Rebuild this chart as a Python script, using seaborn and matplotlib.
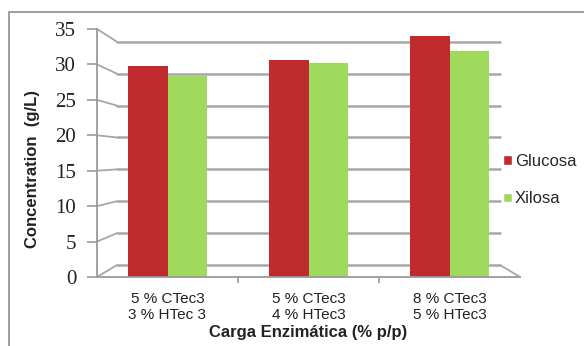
import matplotlib
matplotlib.use("Agg")
import matplotlib.pyplot as plt
import matplotlib.patches as mpatches
import seaborn as sns
import pandas as pd

# Enzyme loadings (x categories) and sugar concentrations in g/L
cargas = ["5 % CTec3\n3 % HTec 3", "5 % CTec3\n4 % HTec3", "8 % CTec3\n5 % HTec3"]
glucosa = [29.8, 30.6, 34.0]
xilosa = [28.3, 30.2, 31.9]
series = ["Glucosa", "Xilosa"]
yticks = [0, 5, 10, 15, 20, 25, 30, 35]

df = pd.DataFrame({
    "Carga": cargas * 2,
    "Concentración": glucosa + xilosa,
    "Azúcar": [series[0]] * len(cargas) + [series[1]] * len(cargas),
})

sns.set_style("white")
plt.rcParams["font.family"] = ["Liberation Sans", "DejaVu Sans"]

RED = "#BF2A2D"
GREEN = "#9FDA5C"
GRID = "#A6A6A6"

W, H = 584, 346
fig = plt.figure(figsize=(W / 100, H / 100), dpi=100)

# outer chart frame (runs off the right and bottom edges)
fig.add_artist(mpatches.Rectangle((9 / W, -0.1), 1.2, 1 - 12 / H + 0.1,
                                  transform=fig.transFigure, fill=False,
                                  edgecolor="#8C8C8C", lw=1.2))

ax = fig.add_axes([97 / W, 69 / H, 423 / W, 248 / H])
sns.barplot(data=df, x="Carga", y="Concentración", hue="Azúcar",
            palette=[RED, GREEN], saturation=1, width=0.56, gap=0,
            ax=ax, legend=False, zorder=2, linewidth=0, edgecolor="none")

ax.set_xlim(-0.5, 2.5)
ax.set_ylim(0, 35)

# pseudo-3D back wall: gridlines pushed back, linked to the front axis
depth_x = 20 / 141
def back(v):
    return 1.69 + 0.9 * v

for v in yticks:
    ax.plot([-0.5, -0.5 + depth_x], [v, back(v)], color=GRID, lw=1.3,
            zorder=0.5, clip_on=False)
    ax.plot([-0.5 + depth_x, 2.5 - depth_x], [back(v), back(v)],
            color=GRID, lw=1.8, zorder=0.5, clip_on=False)
ax.plot([2.5 - depth_x, 2.5], [back(0), 0], color=GRID, lw=1.3,
        zorder=0.5, clip_on=False)

for s in ["top", "right"]:
    ax.spines[s].set_visible(False)
for s in ["left", "bottom"]:
    ax.spines[s].set_color("#9A9A9A")
    ax.spines[s].set_linewidth(1.3)

ax.set_yticks(yticks)
ax.set_yticklabels([str(v) for v in yticks], family="Liberation Serif",
                   fontsize=15, color="#222222")
ax.tick_params(axis="y", direction="out", length=7, width=1.2,
               color="#9A9A9A", pad=8, left=True)

ax.set_xticks(range(len(cargas)))
ax.set_xticklabels(cargas, fontsize=11, color="#222222", linespacing=1.2)
ax.tick_params(axis="x", length=0, pad=11)
ax.set_xticks([0.5, 1.5], minor=True)
ax.tick_params(axis="x", which="minor", direction="out", length=4,
               width=1.2, color="#9A9A9A", bottom=True)

ax.set_xlabel("Carga Enzimática (% p/p)", fontsize=12, fontweight="bold",
              color="#222222", labelpad=2)
ax.set_ylabel("Concentration  (g/L)", fontsize=12, fontweight="bold",
              color="#222222")
ax.yaxis.set_label_coords(-0.135, 0.435)

handles = [mpatches.Patch(facecolor=RED, label=series[0]),
           mpatches.Patch(facecolor=GREEN, label=series[1])]
ax.legend(handles=handles, loc="center left",
          bbox_to_anchor=(495 / W, 166 / H), bbox_transform=fig.transFigure,
          frameon=False, fontsize=12, handlelength=0.5, handleheight=0.5,
          handletextpad=0.2, labelspacing=1.35, borderpad=0)

fig.savefig("out.png", dpi=100)
